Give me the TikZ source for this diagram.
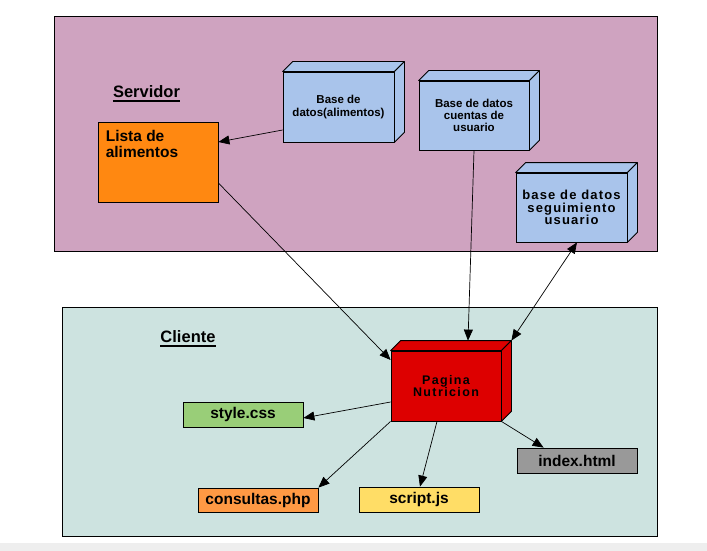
\documentclass[tikz,border=0pt]{standalone}
\usepackage{fontspec}
\setmainfont{Liberation Sans}
\newfontfamily\segfont[LetterSpace=9]{Liberation Sans}
\newfontfamily\pagfont[LetterSpace=11]{Liberation Sans}
\usetikzlibrary{arrows.meta,calc}
\definecolor{srvbg}{RGB}{207,163,192}
\definecolor{clibg}{RGB}{205,227,224}
\definecolor{dbblue}{RGB}{169,196,235}
\definecolor{pagred}{RGB}{221,0,0}
\definecolor{listaor}{RGB}{255,136,17}
\definecolor{cssgreen}{RGB}{153,206,120}
\definecolor{phpor}{RGB}{255,153,68}
\definecolor{jsyel}{RGB}{255,221,102}
\definecolor{idxgray}{RGB}{153,153,153}
\definecolor{bandgray}{RGB}{238,238,238}
\tikzset{
  cubebox/.style={draw, line width=0.8pt, inner sep=0pt, align=center,
    font=\bfseries\fontsize{11.5}{12.5}\selectfont},
  filebox/.style={draw, line width=0.8pt, minimum width=120pt, minimum height=25pt,
    inner sep=0pt, font=\bfseries\fontsize{15.5}{17}\selectfont},
  zone/.style={draw, line width=0.8pt},
  arr/.style={line width=0.7pt, -{Triangle[length=11pt,width=9pt]}},
  darr/.style={line width=0.7pt, {Triangle[length=11pt,width=9pt]}-{Triangle[length=11pt,width=9pt]}},
  title/.style={inner sep=0pt, anchor=base, font=\bfseries\fontsize{16.5}{18}\selectfont},
}
\newcommand\cubefaces[2]{%
  \filldraw[fill=#2, line width=0.8pt, line join=round]
    (#1.north west) -- ++(10,-10) -- ($(#1.north east)+(10,-10)$) -- (#1.north east) -- cycle;
  \filldraw[fill=#2, line width=0.8pt, line join=round]
    (#1.north east) -- ++(10,-10) -- ($(#1.south east)+(10,-10)$) -- (#1.south east) -- cycle;
}
\begin{document}
\begin{tikzpicture}[x=1pt,y=-1pt]
\useasboundingbox (0,0) rectangle (707,551);
\fill[white] (0,0) rectangle (707,551);
\fill[bandgray] (0,543) rectangle (707,551);

% zones
\node[zone, fill=srvbg, minimum width=603pt, minimum height=235pt, inner sep=0pt] (server) at (355.5,133.5) {};
\node[zone, fill=clibg, minimum width=595pt, minimum height=229pt, inner sep=0pt] (client) at (359.5,421.5) {};

% titles
\node[title] (srvt) at (146.5,98) {Servidor};
\draw[line width=1.6pt] ($(srvt.base west)+(0,3)$) -- ($(srvt.base east)+(0,3)$);
\node[title] (clit) at (188,342.5) {Cliente};
\draw[line width=1.6pt] ($(clit.base west)+(0,3.5)$) -- ($(clit.base east)+(0,3.5)$);

% server boxes
\node[cubebox, fill=dbblue, minimum width=111pt, minimum height=70pt] (dbA) at (338.5,107) {Base de\\datos(alimentos)};
\cubefaces{dbA}{dbblue}
\node[cubebox, fill=dbblue, minimum width=110pt, minimum height=69pt,
  font=\bfseries\fontsize{11.5}{12}\selectfont] (dbC) at (474,115.5) {Base de datos\\cuentas de\\usuario};
\cubefaces{dbC}{dbblue}
\node[cubebox, fill=dbblue, minimum width=111pt, minimum height=69pt,
  font=\segfont\bfseries\fontsize{13}{12.5}\selectfont] (dbS) at (571.5,207.5) {base de datos\\seguimiento\\usuario};
\cubefaces{dbS}{dbblue}

\node[draw, line width=0.8pt, fill=listaor, minimum width=120pt, minimum height=80pt, inner sep=0pt] (lista) at (158,162) {};
\node[inner sep=0pt, anchor=base west, align=left, font=\bfseries\fontsize{15.5}{16}\selectfont] (listat) at ($(lista.north west)+(8,36)$) {Lista de\\alimentos};

% client boxes
\node[cubebox, fill=pagred, minimum width=110pt, minimum height=70pt,
  font=\pagfont\bfseries\fontsize{12.5}{12}\selectfont] (pag) at (446,386) {Pagina\\Nutricion};
\cubefaces{pag}{pagred}

\node[filebox, fill=cssgreen] (css) at (243,414.5) {style.css};
\node[filebox, fill=phpor, minimum height=24pt] (php) at (258,500) {consultas.php};
\node[filebox, fill=jsyel] (js) at (419,499.5) {script.js};
\node[filebox, fill=idxgray] (idx) at (577,460.5) {index.html};

% connectors
\draw[arr] ($(dbA.west)+(0,23)$) -- ($(lista.east)+(0,-20)$);
\draw[arr] ($(lista.east)+(0,21)$) -- ($(pag.west)+(0,-26)$);
\draw[arr] (dbC.south) -- ($(pag.north)+(22,-10)$);
\draw[darr] ($(dbS.south)+(5.5,0)$) -- ($(pag.north east)+(10,-10)$);
\draw[arr] ($(pag.west)+(0,16)$) -- ($(css.east)+(0,3.5)$);
\draw[arr] (pag.south west) -- (php.north east);
\draw[arr] ($(pag.south)+(-9,0)$) -- ($(js.north)+(1,0)$);
\draw[arr] (pag.south east) -- ($(idx.north west)+(27,0)$);
\end{tikzpicture}
\end{document}
